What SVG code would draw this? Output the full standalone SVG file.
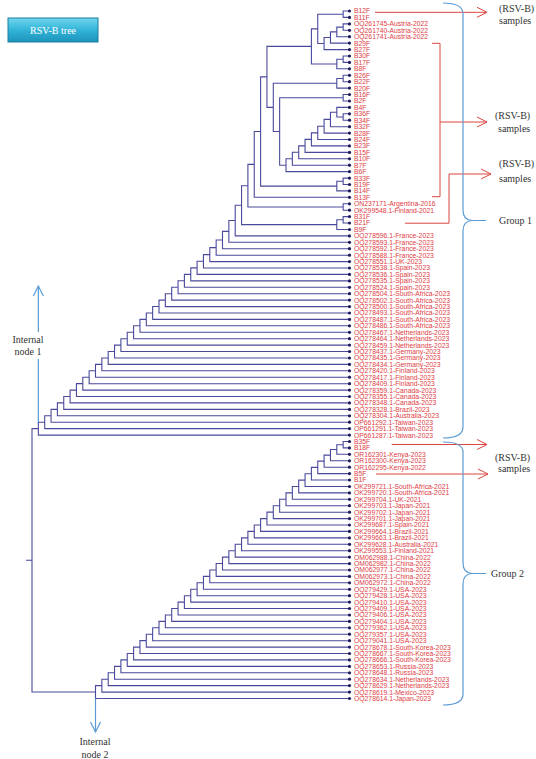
<svg xmlns="http://www.w3.org/2000/svg" width="536" height="759" viewBox="0 0 536 759">
<defs>
<linearGradient id="btn" x1="0" y1="0" x2="0" y2="1">
<stop offset="0" stop-color="#6fd6ee"/><stop offset="0.5" stop-color="#33b4d8"/><stop offset="1" stop-color="#1c93bb"/>
</linearGradient>
<marker id="ahr" viewBox="0 0 10 10" refX="10" refY="5" markerWidth="10" markerHeight="10" markerUnits="userSpaceOnUse" orient="auto" overflow="visible"><path d="M0 0L10 5L0 10" fill="none" stroke="#d9453f" stroke-width="1"/></marker>
<marker id="ahb" viewBox="0 0 10 10" refX="10" refY="5" markerWidth="10" markerHeight="10" markerUnits="userSpaceOnUse" orient="auto" overflow="visible"><path d="M0 0L10 5L0 10" fill="none" stroke="#5b9bd5" stroke-width="1.2"/></marker>
</defs>
<style>
.br{fill:none;stroke:#4a4a9c;stroke-width:1.1}
.dot{fill:#1c1c5e}
.lb{font-family:"Liberation Sans",Arial,sans-serif;font-size:6.8px;fill:#e03c44}
.an{fill:none;stroke:#d9453f;stroke-width:1}
.gb{fill:none;stroke:#5b9bd5;stroke-width:1.2}
.tx{font-family:"Liberation Serif","Times New Roman",serif;font-size:10px;fill:#333}
</style>
<rect width="536" height="759" fill="#fff"/>
<g id="title">
<rect x="8" y="18" width="90" height="24" fill="url(#btn)" stroke="#1b7fa0" stroke-width="1"/>
<text x="53" y="34" text-anchor="middle" class="tx" style="fill:#fff">RSV-B tree</text>
</g>
<g id="connectors">
<path class="br" d="M349.5 11H343.15V17.4H349.5M349.5 23.9H343.15V30.3H349.5M343.15 27.1H336.8V36.7H349.5M336.8 31.9H330.45V43.1H349.5M330.45 37.5H324.1V49.6H349.5M343.15 14.2H317.75V43.5H324.1M349.5 56H343.15V62.4H349.5M343.15 59.2H336.8V68.8H349.5M317.75 28.85H311.4V64H336.8M349.5 75.3H343.15V81.7H349.5M343.15 78.5H336.8V88.1H349.5M349.5 94.5H343.15V101H349.5M349.5 113.8H343.15V120.2H349.5M349.5 107.4H336.8V117H343.15M336.8 112.2H330.45V126.7H349.5M330.45 119.4H324.1V133.1H349.5M324.1 126.25H317.75V139.5H349.5M317.75 132.9H311.4V145.9H349.5M311.4 139.4H305.05V152.4H349.5M305.05 145.9H298.7V158.8H349.5M298.7 152.3H292.35V165.2H349.5M292.35 158.8H286V171.6H349.5M343.15 97.75H279.65V165.2H286M336.8 83.3H273.3V131.5H279.65M311.4 46.4H266.95V107.4H273.3M349.5 178.1H343.15V184.5H349.5M343.15 181.3H336.8V190.9H349.5M266.95 76.9H260.6V186.1H336.8M260.6 131.5H254.25V197.3H349.5M349.5 203.8H343.15V210.2H349.5M254.25 164.4H247.9V207H343.15M349.5 216.6H343.15V223H349.5M343.15 219.8H336.8V229.5H349.5M247.9 185.7H241.55V224.6H336.8M241.55 205.2H235.2V235.9H349.5"/>
<path class="br" d="M235.2 220.5H228.85V242.3H349.5M228.85 231.4H222.5V248.7H349.5M222.5 240.05H216.15V255.2H349.5M216.15 247.6H209.8V261.6H349.5M209.8 254.6H203.45V268H349.5M203.45 261.3H197.1V274.4H349.5M197.1 267.85H190.75V280.9H349.5M190.75 274.35H184.4V287.3H349.5M184.4 280.8H178.05V293.7H349.5M178.05 287.25H171.7V300.1H349.5M171.7 293.7H165.35V306.6H349.5M165.35 300.1H159V313H349.5M159 306.55H152.65V319.4H349.5M152.65 313H146.3V325.8H349.5M146.3 319.4H139.95V332.3H349.5M139.95 325.8H133.6V338.7H349.5M133.6 332.25H127.25V345.1H349.5M127.25 338.7H120.9V351.5H349.5M120.9 345.1H114.55V358H349.5M114.55 351.5H108.2V364.4H349.5M108.2 357.95H101.85V370.8H349.5M101.85 364.4H95.5V377.2H349.5M95.5 370.8H89.15V383.7H349.5M89.15 377.2H82.8V390.1H349.5M82.8 383.65H76.45V396.5H349.5M76.45 390.1H70.1V402.9H349.5M70.1 396.5H63.75V409.4H349.5M63.75 402.9H57.4V415.8H349.5M57.4 409.35H51.05V422.2H349.5M51.05 415.8H44.7V428.6H349.5M44.7 422.2H38.35V435.1H349.5"/>
<path class="br" d="M349.5 441.5H343.15V447.9H349.5M343.15 444.7H336.8V454.3H349.5M336.8 449.5H330.45V460.8H349.5M330.45 455.1H324.1V467.2H349.5M324.1 461.15H317.75V473.6H349.5M317.75 467.4H311.4V480H349.5M311.4 473.7H305.05V486.5H349.5M305.05 480.1H298.7V492.9H349.5M298.7 486.5H292.35V499.3H349.5M292.35 492.9H286V505.7H349.5M286 499.3H279.65V512.2H349.5M279.65 505.7H273.3V518.6H349.5M273.3 512.15H266.95V525H349.5M266.95 518.6H260.6V531.4H349.5M260.6 525H254.25V537.9H349.5M254.25 531.4H247.9V544.3H349.5M247.9 537.85H241.55V550.7H349.5M241.55 544.3H235.2V557.1H349.5M235.2 550.7H228.85V563.6H349.5M228.85 557.1H222.5V570H349.5M222.5 563.55H216.15V576.4H349.5M216.15 570H209.8V582.8H349.5M209.8 576.4H203.45V589.3H349.5M203.45 582.8H197.1V595.7H349.5M197.1 589.25H190.75V602.1H349.5M190.75 595.7H184.4V608.5H349.5M184.4 602.1H178.05V615H349.5M178.05 608.5H171.7V621.4H349.5M171.7 614.95H165.35V627.8H349.5M165.35 621.4H159V634.2H349.5M159 627.8H152.65V640.7H349.5M152.65 634.2H146.3V647.1H349.5M146.3 640.65H139.95V653.5H349.5M139.95 647.1H133.6V659.9H349.5M133.6 653.5H127.25V666.4H349.5M127.25 659.9H120.9V672.8H349.5M120.9 666.35H114.55V679.2H349.5M114.55 672.8H108.2V685.6H349.5M108.2 679.2H101.85V692.1H349.5M101.85 685.6H95.5V698.5H349.5"/>
<path class="br" d="M38.35 428.6H32V692.05H95.5M26 560.3H32"/>
<path class="gb" d="M38.35 422.2V359"/>
<path class="gb" d="M38.35 332V286" marker-end="url(#ahb)"/>
<path class="gb" d="M95.5 698.5V732" marker-end="url(#ahb)"/>
<path class="an" d="M375 12.3H487" marker-end="url(#ahr)"/>
<path class="an" d="M432 43.3H440V196.7H432M440 122H487" marker-end="url(#ahr)"/>
<path class="an" d="M405 223.2H449V174H491" marker-end="url(#ahr)"/>
<path class="an" d="M391.7 444.5H487" marker-end="url(#ahr)"/>
<path class="an" d="M376 474H488" marker-end="url(#ahr)"/>
<path class="gb" d="M443 3Q463 3 463 14V210Q463 220 472 220.5H486M472 220.5Q463 221 463 231V427Q463 438 443 438"/>
<path class="gb" d="M443 442Q463 442 463 452V563Q463 573 472 573.5H486M472 573.5Q463 574 463 584V694Q463 705 443 705"/>
</g>
<g id="annotations">
<g id="ann1"><text x="499" y="11.5" class="tx">(RSV-B)</text><text x="499" y="24" class="tx">samples</text></g>
<g id="ann2"><text x="495" y="119" class="tx">(RSV-B)</text><text x="498" y="131.5" class="tx">samples</text></g>
<g id="ann3"><text x="499" y="167" class="tx">(RSV-B)</text><text x="499" y="181.5" class="tx">samples</text></g>
<g id="ann4"><text x="495" y="461" class="tx">(RSV-B)</text><text x="498" y="472" class="tx">samples</text></g>
<g id="group1"><text x="499" y="223.5" class="tx">Group 1</text></g>
<g id="group2"><text x="491" y="577" class="tx">Group 2</text></g>
<g id="inode1"><text x="28" y="343" text-anchor="middle" class="tx">Internal</text><text x="28" y="355" text-anchor="middle" class="tx">node 1</text></g>
<g id="inode2"><text x="95" y="744.5" text-anchor="middle" class="tx">Internal</text><text x="95" y="757.5" text-anchor="middle" class="tx">node 2</text></g>
</g>
<g id="leaves">
<g id="n1"><circle class="dot" cx="349.5" cy="11" r="1.6"/><text class="lb" x="354" y="13.4">B12F</text></g>
<g id="n2"><circle class="dot" cx="349.5" cy="17.4" r="1.6"/><text class="lb" x="354" y="19.8">B11F</text></g>
<g id="n3"><circle class="dot" cx="349.5" cy="23.9" r="1.6"/><text class="lb" x="354" y="26.3">OQ261745-Austria-2022</text></g>
<g id="n4"><circle class="dot" cx="349.5" cy="30.3" r="1.6"/><text class="lb" x="354" y="32.7">OQ261740-Austria-2022</text></g>
<g id="n5"><circle class="dot" cx="349.5" cy="36.7" r="1.6"/><text class="lb" x="354" y="39.1">OQ261741-Austria-2022</text></g>
<g id="n6"><circle class="dot" cx="349.5" cy="43.1" r="1.6"/><text class="lb" x="354" y="45.5">B29F</text></g>
<g id="n7"><circle class="dot" cx="349.5" cy="49.6" r="1.6"/><text class="lb" x="354" y="52">B27F</text></g>
<g id="n8"><circle class="dot" cx="349.5" cy="56" r="1.6"/><text class="lb" x="354" y="58.4">B30F</text></g>
<g id="n9"><circle class="dot" cx="349.5" cy="62.4" r="1.6"/><text class="lb" x="354" y="64.8">B17F</text></g>
<g id="n10"><circle class="dot" cx="349.5" cy="68.8" r="1.6"/><text class="lb" x="354" y="71.2">B8F</text></g>
<g id="n11"><circle class="dot" cx="349.5" cy="75.3" r="1.6"/><text class="lb" x="354" y="77.7">B26F</text></g>
<g id="n12"><circle class="dot" cx="349.5" cy="81.7" r="1.6"/><text class="lb" x="354" y="84.1">B22F</text></g>
<g id="n13"><circle class="dot" cx="349.5" cy="88.1" r="1.6"/><text class="lb" x="354" y="90.5">B20F</text></g>
<g id="n14"><circle class="dot" cx="349.5" cy="94.5" r="1.6"/><text class="lb" x="354" y="96.9">B16F</text></g>
<g id="n15"><circle class="dot" cx="349.5" cy="101" r="1.6"/><text class="lb" x="354" y="103.4">B2F</text></g>
<g id="n16"><circle class="dot" cx="349.5" cy="107.4" r="1.6"/><text class="lb" x="354" y="109.8">B4F</text></g>
<g id="n17"><circle class="dot" cx="349.5" cy="113.8" r="1.6"/><text class="lb" x="354" y="116.2">B36F</text></g>
<g id="n18"><circle class="dot" cx="349.5" cy="120.2" r="1.6"/><text class="lb" x="354" y="122.6">B34F</text></g>
<g id="n19"><circle class="dot" cx="349.5" cy="126.7" r="1.6"/><text class="lb" x="354" y="129.1">B32F</text></g>
<g id="n20"><circle class="dot" cx="349.5" cy="133.1" r="1.6"/><text class="lb" x="354" y="135.5">B28F</text></g>
<g id="n21"><circle class="dot" cx="349.5" cy="139.5" r="1.6"/><text class="lb" x="354" y="141.9">B24F</text></g>
<g id="n22"><circle class="dot" cx="349.5" cy="145.9" r="1.6"/><text class="lb" x="354" y="148.3">B23F</text></g>
<g id="n23"><circle class="dot" cx="349.5" cy="152.4" r="1.6"/><text class="lb" x="354" y="154.8">B15F</text></g>
<g id="n24"><circle class="dot" cx="349.5" cy="158.8" r="1.6"/><text class="lb" x="354" y="161.2">B10F</text></g>
<g id="n25"><circle class="dot" cx="349.5" cy="165.2" r="1.6"/><text class="lb" x="354" y="167.6">B7F</text></g>
<g id="n26"><circle class="dot" cx="349.5" cy="171.6" r="1.6"/><text class="lb" x="354" y="174">B6F</text></g>
<g id="n27"><circle class="dot" cx="349.5" cy="178.1" r="1.6"/><text class="lb" x="354" y="180.5">B33F</text></g>
<g id="n28"><circle class="dot" cx="349.5" cy="184.5" r="1.6"/><text class="lb" x="354" y="186.9">B19F</text></g>
<g id="n29"><circle class="dot" cx="349.5" cy="190.9" r="1.6"/><text class="lb" x="354" y="193.3">B14F</text></g>
<g id="n30"><circle class="dot" cx="349.5" cy="197.3" r="1.6"/><text class="lb" x="354" y="199.7">B13F</text></g>
<g id="n31"><circle class="dot" cx="349.5" cy="203.8" r="1.6"/><text class="lb" x="354" y="206.2">ON237171-Argentina-2016</text></g>
<g id="n32"><circle class="dot" cx="349.5" cy="210.2" r="1.6"/><text class="lb" x="354" y="212.6">OK299548.1-Finland-2021</text></g>
<g id="n33"><circle class="dot" cx="349.5" cy="216.6" r="1.6"/><text class="lb" x="354" y="219">B31F</text></g>
<g id="n34"><circle class="dot" cx="349.5" cy="223" r="1.6"/><text class="lb" x="354" y="225.4">B21F</text></g>
<g id="n35"><circle class="dot" cx="349.5" cy="229.5" r="1.6"/><text class="lb" x="354" y="231.9">B9F</text></g>
<g id="n36"><circle class="dot" cx="349.5" cy="235.9" r="1.6"/><text class="lb" x="354" y="238.3">OQ278596.1-France-2023</text></g>
<g id="n37"><circle class="dot" cx="349.5" cy="242.3" r="1.6"/><text class="lb" x="354" y="244.7">OQ278593.1-France-2023</text></g>
<g id="n38"><circle class="dot" cx="349.5" cy="248.7" r="1.6"/><text class="lb" x="354" y="251.1">OQ278592.1-France-2023</text></g>
<g id="n39"><circle class="dot" cx="349.5" cy="255.2" r="1.6"/><text class="lb" x="354" y="257.6">OQ278588.1-France-2023</text></g>
<g id="n40"><circle class="dot" cx="349.5" cy="261.6" r="1.6"/><text class="lb" x="354" y="264">OQ278551.1-UK-2023</text></g>
<g id="n41"><circle class="dot" cx="349.5" cy="268" r="1.6"/><text class="lb" x="354" y="270.4">OQ278538.1-Spain-2023</text></g>
<g id="n42"><circle class="dot" cx="349.5" cy="274.4" r="1.6"/><text class="lb" x="354" y="276.8">OQ278536.1-Spain-2023</text></g>
<g id="n43"><circle class="dot" cx="349.5" cy="280.9" r="1.6"/><text class="lb" x="354" y="283.3">OQ278535.1-Spain-2023</text></g>
<g id="n44"><circle class="dot" cx="349.5" cy="287.3" r="1.6"/><text class="lb" x="354" y="289.7">OQ278524.1-Spain-2023</text></g>
<g id="n45"><circle class="dot" cx="349.5" cy="293.7" r="1.6"/><text class="lb" x="354" y="296.1">OQ278504.1-South-Africa-2023</text></g>
<g id="n46"><circle class="dot" cx="349.5" cy="300.1" r="1.6"/><text class="lb" x="354" y="302.5">OQ278502.1-South-Africa-2023</text></g>
<g id="n47"><circle class="dot" cx="349.5" cy="306.6" r="1.6"/><text class="lb" x="354" y="309">OQ278500.1-South-Africa-2023</text></g>
<g id="n48"><circle class="dot" cx="349.5" cy="313" r="1.6"/><text class="lb" x="354" y="315.4">OQ278493.1-South-Africa-2023</text></g>
<g id="n49"><circle class="dot" cx="349.5" cy="319.4" r="1.6"/><text class="lb" x="354" y="321.8">OQ278487.1-South-Africa-2023</text></g>
<g id="n50"><circle class="dot" cx="349.5" cy="325.8" r="1.6"/><text class="lb" x="354" y="328.2">OQ278486.1-South-Africa-2023</text></g>
<g id="n51"><circle class="dot" cx="349.5" cy="332.3" r="1.6"/><text class="lb" x="354" y="334.7">OQ278467.1-Netherlands-2023</text></g>
<g id="n52"><circle class="dot" cx="349.5" cy="338.7" r="1.6"/><text class="lb" x="354" y="341.1">OQ278464.1-Netherlands-2023</text></g>
<g id="n53"><circle class="dot" cx="349.5" cy="345.1" r="1.6"/><text class="lb" x="354" y="347.5">OQ278459.1-Netherlands-2023</text></g>
<g id="n54"><circle class="dot" cx="349.5" cy="351.5" r="1.6"/><text class="lb" x="354" y="353.9">OQ278437.1-Germany-2023</text></g>
<g id="n55"><circle class="dot" cx="349.5" cy="358" r="1.6"/><text class="lb" x="354" y="360.4">OQ278435.1-Germany-2023</text></g>
<g id="n56"><circle class="dot" cx="349.5" cy="364.4" r="1.6"/><text class="lb" x="354" y="366.8">OQ278434.1-Germany-2023</text></g>
<g id="n57"><circle class="dot" cx="349.5" cy="370.8" r="1.6"/><text class="lb" x="354" y="373.2">OQ278420.1-Finland-2023</text></g>
<g id="n58"><circle class="dot" cx="349.5" cy="377.2" r="1.6"/><text class="lb" x="354" y="379.6">OQ278417.1-Finland-2023</text></g>
<g id="n59"><circle class="dot" cx="349.5" cy="383.7" r="1.6"/><text class="lb" x="354" y="386.1">OQ278409.1-Finland-2023</text></g>
<g id="n60"><circle class="dot" cx="349.5" cy="390.1" r="1.6"/><text class="lb" x="354" y="392.5">OQ278359.1-Canada-2023</text></g>
<g id="n61"><circle class="dot" cx="349.5" cy="396.5" r="1.6"/><text class="lb" x="354" y="398.9">OQ278355.1-Canada-2023</text></g>
<g id="n62"><circle class="dot" cx="349.5" cy="402.9" r="1.6"/><text class="lb" x="354" y="405.3">OQ278348.1-Canada-2023</text></g>
<g id="n63"><circle class="dot" cx="349.5" cy="409.4" r="1.6"/><text class="lb" x="354" y="411.8">OQ278328.1-Brazil-2023</text></g>
<g id="n64"><circle class="dot" cx="349.5" cy="415.8" r="1.6"/><text class="lb" x="354" y="418.2">OQ278304.1-Australia-2023</text></g>
<g id="n65"><circle class="dot" cx="349.5" cy="422.2" r="1.6"/><text class="lb" x="354" y="424.6">OP661292.1-Taiwan-2023</text></g>
<g id="n66"><circle class="dot" cx="349.5" cy="428.6" r="1.6"/><text class="lb" x="354" y="431">OP661291.1-Taiwan-2023</text></g>
<g id="n67"><circle class="dot" cx="349.5" cy="435.1" r="1.6"/><text class="lb" x="354" y="437.5">OP661287.1-Taiwan-2023</text></g>
<g id="n68"><circle class="dot" cx="349.5" cy="441.5" r="1.6"/><text class="lb" x="354" y="443.9">B35F</text></g>
<g id="n69"><circle class="dot" cx="349.5" cy="447.9" r="1.6"/><text class="lb" x="354" y="450.3">B18F</text></g>
<g id="n70"><circle class="dot" cx="349.5" cy="454.3" r="1.6"/><text class="lb" x="354" y="456.7">OR162301-Kenya-2023</text></g>
<g id="n71"><circle class="dot" cx="349.5" cy="460.8" r="1.6"/><text class="lb" x="354" y="463.2">OR162300-Kenya-2023</text></g>
<g id="n72"><circle class="dot" cx="349.5" cy="467.2" r="1.6"/><text class="lb" x="354" y="469.6">OR162295-Kenya-2022</text></g>
<g id="n73"><circle class="dot" cx="349.5" cy="473.6" r="1.6"/><text class="lb" x="354" y="476">B5F</text></g>
<g id="n74"><circle class="dot" cx="349.5" cy="480" r="1.6"/><text class="lb" x="354" y="482.4">B1F</text></g>
<g id="n75"><circle class="dot" cx="349.5" cy="486.5" r="1.6"/><text class="lb" x="354" y="488.9">OK299721.1-South-Africa-2021</text></g>
<g id="n76"><circle class="dot" cx="349.5" cy="492.9" r="1.6"/><text class="lb" x="354" y="495.3">OK299720.1-South-Africa-2021</text></g>
<g id="n77"><circle class="dot" cx="349.5" cy="499.3" r="1.6"/><text class="lb" x="354" y="501.7">OK299704.1-UK-2021</text></g>
<g id="n78"><circle class="dot" cx="349.5" cy="505.7" r="1.6"/><text class="lb" x="354" y="508.1">OK299703.1-Japan-2021</text></g>
<g id="n79"><circle class="dot" cx="349.5" cy="512.2" r="1.6"/><text class="lb" x="354" y="514.6">OK299702.1-Japan-2021</text></g>
<g id="n80"><circle class="dot" cx="349.5" cy="518.6" r="1.6"/><text class="lb" x="354" y="521">OK299701.1-Japan-2021</text></g>
<g id="n81"><circle class="dot" cx="349.5" cy="525" r="1.6"/><text class="lb" x="354" y="527.4">OK299687.1-Spain-2021</text></g>
<g id="n82"><circle class="dot" cx="349.5" cy="531.4" r="1.6"/><text class="lb" x="354" y="533.8">OK299664.1-Brazil-2021</text></g>
<g id="n83"><circle class="dot" cx="349.5" cy="537.9" r="1.6"/><text class="lb" x="354" y="540.3">OK299663.1-Brazil-2021</text></g>
<g id="n84"><circle class="dot" cx="349.5" cy="544.3" r="1.6"/><text class="lb" x="354" y="546.7">OK299628.1-Australia-2021</text></g>
<g id="n85"><circle class="dot" cx="349.5" cy="550.7" r="1.6"/><text class="lb" x="354" y="553.1">OK299553.1-Finland-2021</text></g>
<g id="n86"><circle class="dot" cx="349.5" cy="557.1" r="1.6"/><text class="lb" x="354" y="559.5">OM062988.1-China-2022</text></g>
<g id="n87"><circle class="dot" cx="349.5" cy="563.6" r="1.6"/><text class="lb" x="354" y="566">OM062982.1-China-2022</text></g>
<g id="n88"><circle class="dot" cx="349.5" cy="570" r="1.6"/><text class="lb" x="354" y="572.4">OM062977.1-China-2022</text></g>
<g id="n89"><circle class="dot" cx="349.5" cy="576.4" r="1.6"/><text class="lb" x="354" y="578.8">OM062973.1-China-2022</text></g>
<g id="n90"><circle class="dot" cx="349.5" cy="582.8" r="1.6"/><text class="lb" x="354" y="585.2">OM062972.1-China-2022</text></g>
<g id="n91"><circle class="dot" cx="349.5" cy="589.3" r="1.6"/><text class="lb" x="354" y="591.7">OQ279429.1-USA-2023</text></g>
<g id="n92"><circle class="dot" cx="349.5" cy="595.7" r="1.6"/><text class="lb" x="354" y="598.1">OQ279428.1-USA-2023</text></g>
<g id="n93"><circle class="dot" cx="349.5" cy="602.1" r="1.6"/><text class="lb" x="354" y="604.5">OQ279410.1-USA-2023</text></g>
<g id="n94"><circle class="dot" cx="349.5" cy="608.5" r="1.6"/><text class="lb" x="354" y="610.9">OQ279409.1-USA-2023</text></g>
<g id="n95"><circle class="dot" cx="349.5" cy="615" r="1.6"/><text class="lb" x="354" y="617.4">OQ279406.1-USA-2023</text></g>
<g id="n96"><circle class="dot" cx="349.5" cy="621.4" r="1.6"/><text class="lb" x="354" y="623.8">OQ279404.1-USA-2023</text></g>
<g id="n97"><circle class="dot" cx="349.5" cy="627.8" r="1.6"/><text class="lb" x="354" y="630.2">OQ279362.1-USA-2023</text></g>
<g id="n98"><circle class="dot" cx="349.5" cy="634.2" r="1.6"/><text class="lb" x="354" y="636.6">OQ279357.1-USA-2023</text></g>
<g id="n99"><circle class="dot" cx="349.5" cy="640.7" r="1.6"/><text class="lb" x="354" y="643.1">OQ279041.1-USA-2023</text></g>
<g id="n100"><circle class="dot" cx="349.5" cy="647.1" r="1.6"/><text class="lb" x="354" y="649.5">OQ278678.1-South-Korea-2023</text></g>
<g id="n101"><circle class="dot" cx="349.5" cy="653.5" r="1.6"/><text class="lb" x="354" y="655.9">OQ278667.1-South-Korea-2023</text></g>
<g id="n102"><circle class="dot" cx="349.5" cy="659.9" r="1.6"/><text class="lb" x="354" y="662.3">OQ278666.1-South-Korea-2023</text></g>
<g id="n103"><circle class="dot" cx="349.5" cy="666.4" r="1.6"/><text class="lb" x="354" y="668.8">OQ278653.1-Russia-2023</text></g>
<g id="n104"><circle class="dot" cx="349.5" cy="672.8" r="1.6"/><text class="lb" x="354" y="675.2">OQ278648.1-Russia-2023</text></g>
<g id="n105"><circle class="dot" cx="349.5" cy="679.2" r="1.6"/><text class="lb" x="354" y="681.6">OQ278634.1-Netherlands-2023</text></g>
<g id="n106"><circle class="dot" cx="349.5" cy="685.6" r="1.6"/><text class="lb" x="354" y="688">OQ278629.1-Netherlands-2023</text></g>
<g id="n107"><circle class="dot" cx="349.5" cy="692.1" r="1.6"/><text class="lb" x="354" y="694.5">OQ278619.1-Mexico-2023</text></g>
<g id="n108"><circle class="dot" cx="349.5" cy="698.5" r="1.6"/><text class="lb" x="354" y="700.9">OQ278614.1-Japan-2023</text></g>
</g>
</svg>
